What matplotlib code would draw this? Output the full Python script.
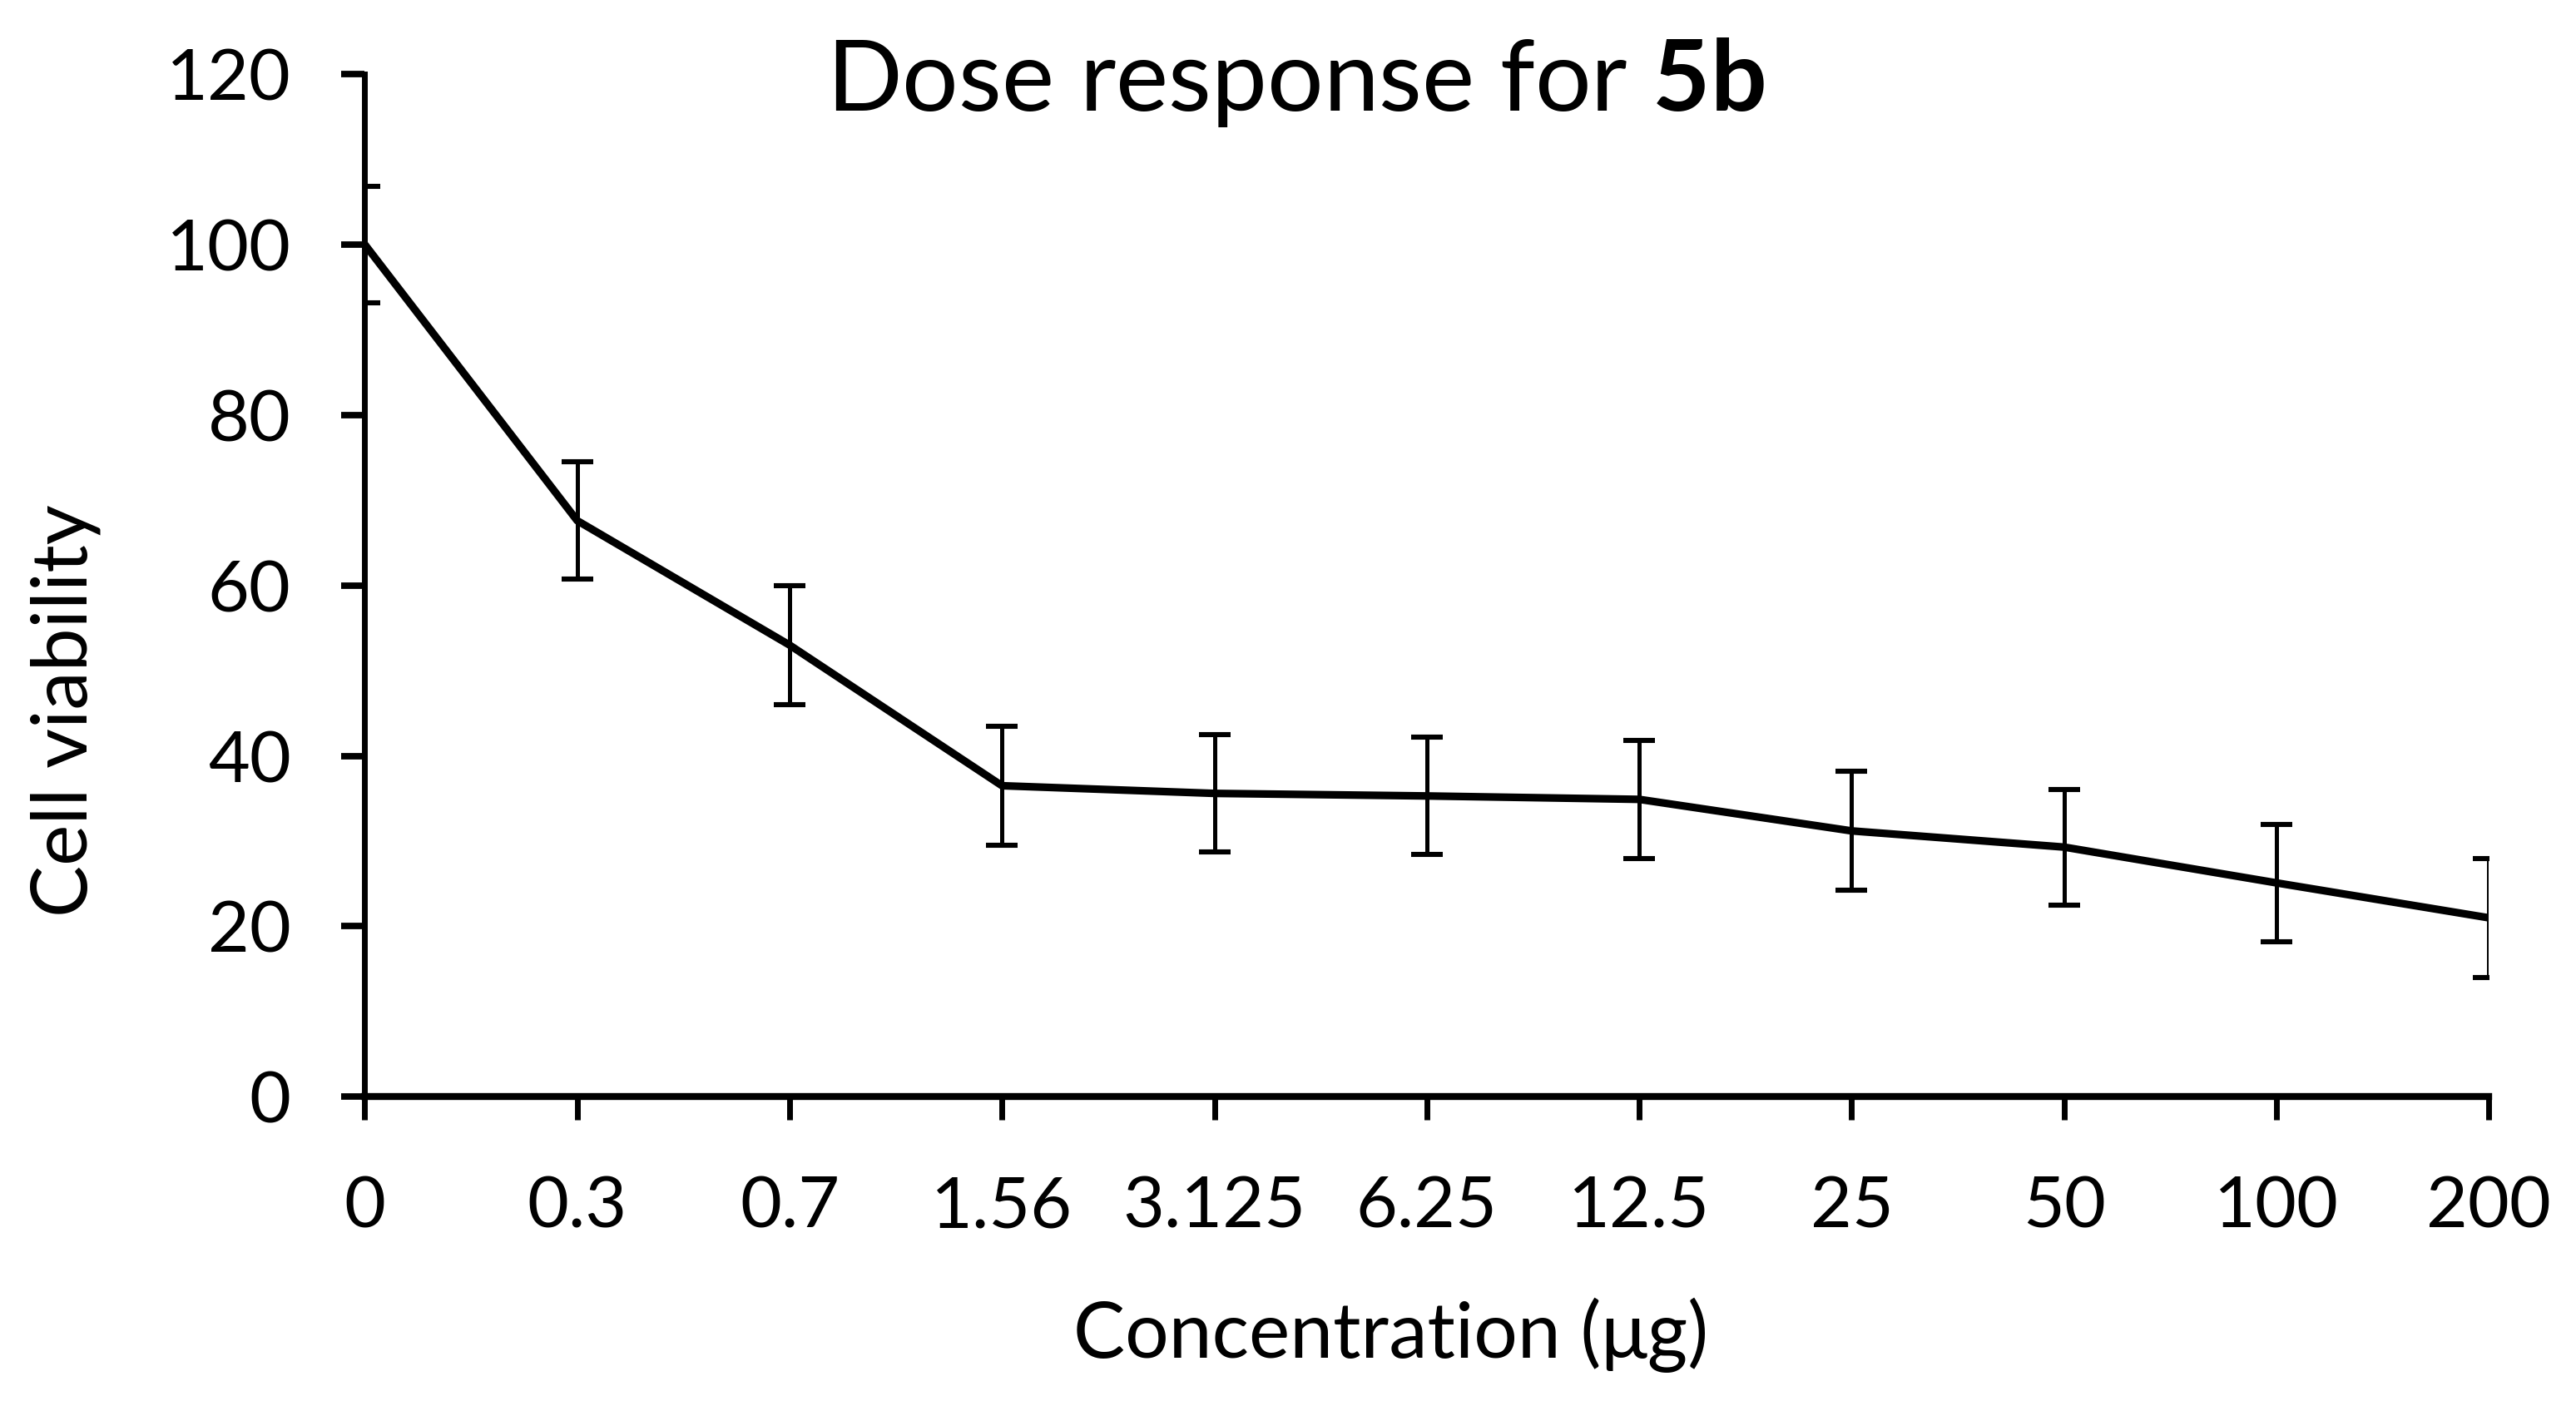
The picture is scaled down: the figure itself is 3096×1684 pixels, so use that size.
import matplotlib
matplotlib.use("Agg")
import matplotlib.pyplot as plt

conc = ["0", "0.3", "0.7", "1.56", "3.125", "6.25", "12.5", "25", "50", "100", "200"]
viability = [100, 67.6, 53.0, 36.5, 35.6, 35.3, 34.9, 31.2, 29.3, 25.1, 21.0]
err = [6.8, 6.9, 7.0, 7.0, 6.9, 6.9, 6.9, 7.0, 6.8, 6.9, 7.0]

plt.rcParams['font.family'] = ['Lato', 'DejaVu Sans']
plt.rcParams['mathtext.fontset'] = 'custom'
plt.rcParams['mathtext.rm'] = 'Lato'
plt.rcParams['mathtext.bf'] = 'Lato:bold'

fig = plt.figure(figsize=(15.48, 8.42), dpi=200)
ax = fig.add_axes([0.1416, 0.2171, 0.9662 - 0.1416, 0.9472 - 0.2171])

x = list(range(len(conc)))
ax.errorbar(x, viability, yerr=err, color='black', linewidth=3.3,
            elinewidth=1.8, capsize=6.8, capthick=2.2)

ax.set_xlim(0, len(conc) - 1)
ax.set_ylim(0, 120)
ax.set_yticks(range(0, 121, 20))
ax.set_xticks(x)
ax.set_xticklabels(conc)

ax.spines['top'].set_visible(False)
ax.spines['right'].set_visible(False)
ax.spines['left'].set_linewidth(2.5)
ax.spines['bottom'].set_linewidth(3)
ax.tick_params(axis='y', direction='out', length=10, width=2.8, pad=22, labelsize=31)
ax.tick_params(axis='x', direction='out', length=10, width=2.5, pad=24, labelsize=31)

fig.text(0.503, 0.921, r"Dose response for $\mathbf{5b}$", fontsize=43,
         ha='center', va='baseline')
fig.text(0.540, 0.047, "Concentration (\u03bcg)", fontsize=33.5, ha='center', va='center')
fig.text(0.0255, 0.493, "Cell viability", fontsize=33.5, rotation=90,
         ha='center', va='center')

fig.savefig("out.png", dpi=200)
